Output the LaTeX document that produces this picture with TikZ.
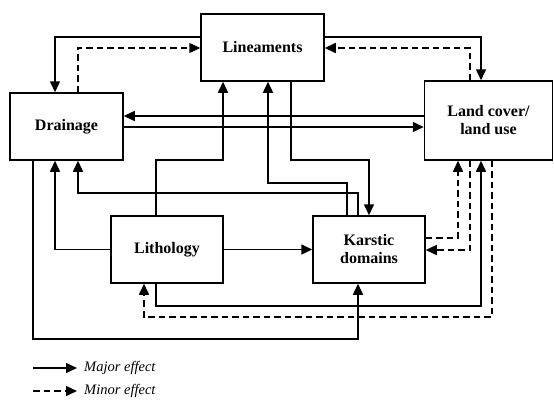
\documentclass[tikz,border=0pt]{standalone}
\usepackage{fontspec}
\setmainfont{Liberation Serif}
\usetikzlibrary{arrows.meta}
\begin{document}
\begin{tikzpicture}[x=1pt,y=-1pt,
 box/.style={draw,line width=1.5pt,inner sep=0pt,font=\fontsize{16}{18}\selectfont\bfseries,align=center},
 maj/.style={line width=1.5pt,-{Triangle[length=11pt,width=10pt]}},
 mnr/.style={maj,dash pattern=on 6.5pt off 4pt},
 legtext/.style={anchor=west,inner sep=0pt,font=\fontsize{14.5}{16}\selectfont\itshape}]
\useasboundingbox (0,0) rectangle (554,399);
\node[box,minimum width=123pt,minimum height=67pt] (lin) at (262.5,47.5) {Lineaments};
\node[box,minimum width=113pt,minimum height=67pt] (drain) at (66.5,126.5) {Drainage};
\node[box,minimum width=128pt,minimum height=79pt] (land) at (488.5,120.5) {Land cover/\\land use};
\node[box,minimum width=112pt,minimum height=67pt] (lith) at (167,249.5) {Lithology};
\node[box,minimum width=112pt,minimum height=67pt] (karst) at (369,249.5) {Karstic\\domains};
% top links
\draw[maj] (lin.west |- 0,37) -| (drain.north -| 55,0);
\draw[mnr] (drain.north -| 78,0) |- (lin.west |- 0,48);
\draw[maj] (lin.east |- 0,37) -| (land.north -| 481,0);
\draw[mnr] (land.north -| 470,0) |- (lin.east |- 0,48);
% drainage <-> land
\draw[maj] (land.west |- 0,116) -- (drain.east |- 0,116);
\draw[maj] (drain.east |- 0,127) -- (land.west |- 0,127);
% to lineaments
\draw[maj] (lith.north -| 156,0) |- (223,160) -- (lin.south -| 223,0);
\draw[maj] (karst.north -| 347,0) |- (268,183) -- (lin.south -| 268,0);
\draw[maj] (karst.north -| 358,0) |- (78,193) -- (drain.south -| 78,0);
\draw[maj] (lin.south -| 291,0) |- (369,160) -- (karst.north -| 369,0);
% lithology
\draw[maj] (lith.west) -| (drain.south -| 55,0);
\draw[maj] (lith.east) -- (karst.west);
% bottom loops
\draw[maj] (drain.south -| 33,0) |- (358,339) -- (karst.south -| 358,0);
\draw[maj] (lith.south -| 156,0) |- (481,306) -- (land.south -| 481,0);
\draw[mnr] (land.south -| 492,0) |- (144,317) -- (lith.south -| 144,0);
\draw[mnr] (karst.east |- 0,238) -| (land.south -| 458,0);
\draw[mnr] (land.south -| 470,0) |- (karst.east |- 0,250);
% legend
\coordinate (ma) at (33,368);
\coordinate (mb) at (77,368);
\coordinate (na) at (33,391);
\coordinate (nb) at (77,391);
\draw[maj] (ma) -- (mb);
\draw[mnr] (na) -- (nb);
\node[legtext] (lma) at (84,368) {Major effect};
\node[legtext] (lmi) at (84,391) {Minor effect};
\end{tikzpicture}
\end{document}
